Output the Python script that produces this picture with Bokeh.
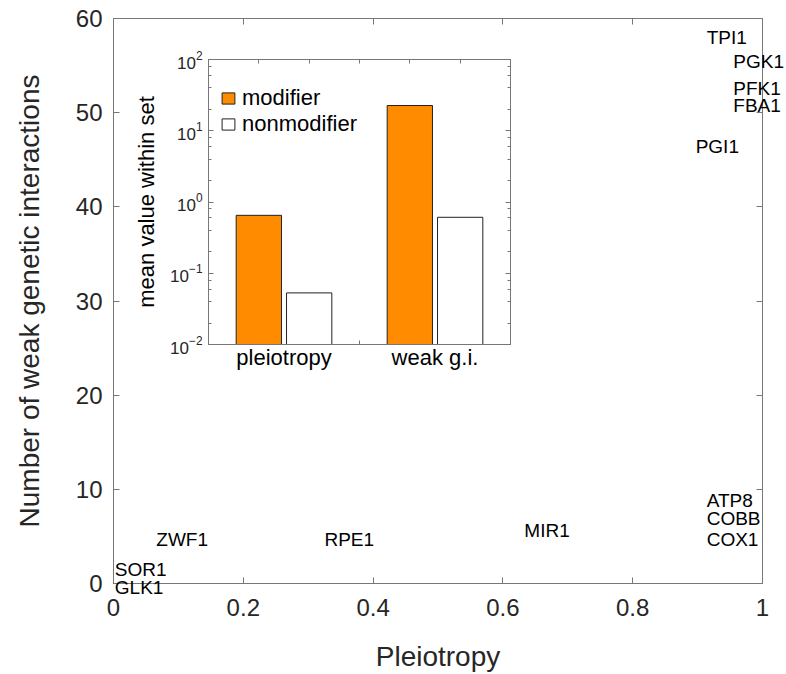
import numpy as np
from bokeh.plotting import figure
from bokeh.models import (FixedTicker, LinearAxis, LogAxis, LogTicker, GridBox, Column,
                          Range1d, ColumnDataSource)
from bokeh.core.properties import value
from bokeh.embed import file_html
from bokeh.resources import INLINE

# ---------------- data ----------------
genes = ["TPI1", "PGK1", "PFK1", "FBA1", "PGI1", "ATP8", "COBB", "COX1",
         "MIR1", "RPE1", "ZWF1", "SOR1", "GLK1"]
pleiotropy = [0.914, 0.955, 0.955, 0.955, 0.897, 0.914, 0.914, 0.914,
              0.633, 0.325, 0.066, 0.002, 0.002]
weak_gi = [58.0, 55.4, 52.6, 50.8, 46.4, 8.9, 7.0, 4.8,
           5.7, 4.8, 4.8, 1.6, -0.3]

x_ticks = [0, 0.2, 0.4, 0.6, 0.8, 1]
x_tick_labels = ["0", "0.2", "0.4", "0.6", "0.8", "1"]
y_ticks = [0, 10, 20, 30, 40, 50, 60]

inset_categories = ["pleiotropy", "weak g.i."]
modifier_means = [0.65, 22.6]
nonmodifier_means = [0.053, 0.61]
log_ticks = [0.01, 0.1, 1, 10, 100]

FONT = "Liberation Sans"
AX = "#777777"
TXT = "#262626"

# layout constants (pixels)
W, H = 778, 674
BL, BR, BT, BB = 113, 16, 18, 90
X0, X1, Y0, Y1 = 0.0, 1.0, 0.0, 60.0

# ---------------- main plot ----------------
p = figure(width=W, height=H, x_range=Range1d(X0, X1), y_range=Range1d(Y0, Y1),
           output_backend="svg", toolbar_location=None,
           min_border_left=BL, min_border_right=BR, min_border_top=BT,
           min_border_bottom=BB)
p.grid.visible = False
p.outline_line_color = AX
p.background_fill_color = "white"

for ax in (p.xaxis[0], p.yaxis[0]):
    ax.major_tick_in = 6
    ax.major_tick_out = 0
    ax.minor_tick_line_color = None
    ax.axis_line_color = AX
    ax.major_tick_line_color = AX
    ax.major_label_text_font = FONT
    ax.major_label_text_font_size = "24px"
    ax.major_label_text_color = TXT
    ax.axis_label_text_font = FONT
    ax.axis_label_text_font_size = "28px"
    ax.axis_label_text_font_style = "normal"
    ax.axis_label_text_color = TXT

p.xaxis[0].ticker = FixedTicker(ticks=x_ticks)
p.xaxis[0].major_label_overrides = {t: l for t, l in zip(x_ticks, x_tick_labels)}
p.xaxis[0].axis_label = "Pleiotropy"
p.xaxis[0].major_label_standoff = 15
p.xaxis[0].axis_label_standoff = 22

p.yaxis[0].ticker = FixedTicker(ticks=y_ticks)
p.yaxis[0].axis_label = "Number of weak genetic interactions"
p.yaxis[0].major_label_standoff = 11
p.yaxis[0].axis_label_standoff = 28

top = LinearAxis(ticker=FixedTicker(ticks=x_ticks), major_tick_in=6, major_tick_out=0,
                 minor_tick_line_color=None, axis_line_color=AX, major_tick_line_color=AX,
                 major_label_overrides={t: "" for t in x_ticks}, major_label_standoff=0)
right = LinearAxis(ticker=FixedTicker(ticks=y_ticks), major_tick_in=6, major_tick_out=0,
                   minor_tick_line_color=None, axis_line_color=AX, major_tick_line_color=AX,
                   major_label_overrides={t: "" for t in y_ticks}, major_label_standoff=0)
p.add_layout(top, "above")
p.add_layout(right, "right")

# ---------------- gene labels (transparent overlay with same scale, larger frame) ----------------
QW = 786
fw = W - BL - BR
fh = H - BT - BB
xr_px = QW - BL - fw   # extra room to the right of the box
yb_px = 16             # extra room below the box
q = figure(width=QW, height=H,
           x_range=Range1d(X0, X1 + xr_px * (X1 - X0) / fw),
           y_range=Range1d(Y0 - yb_px * (Y1 - Y0) / fh, Y1),
           output_backend="svg", toolbar_location=None,
           x_axis_location=None, y_axis_location=None,
           min_border_left=BL, min_border_right=0, min_border_top=BT,
           min_border_bottom=BB - yb_px)
q.grid.visible = False
q.outline_line_color = None
q.background_fill_alpha = 0
q.border_fill_alpha = 0

src = ColumnDataSource(dict(x=pleiotropy, y=weak_gi, t=genes))
q.text(x="x", y="y", text="t", source=src, text_align="left", text_baseline="middle",
       text_font=value(FONT), text_font_size="19px", text_color="black")

# ---------------- inset ----------------
inset = figure(width=384, height=335, x_range=Range1d(0.5, 2.5), y_range=Range1d(0.01, 100),
               y_axis_type="log", output_backend="svg", toolbar_location=None,
               min_border_left=65, min_border_right=5, min_border_top=15, min_border_bottom=35)
inset.grid.visible = False
inset.outline_line_color = AX
inset.border_fill_alpha = 0
inset.background_fill_color = "white"

centers = np.arange(1, len(inset_categories) + 1, dtype=float)
offset = 1 / 6
inset.vbar(x=centers - offset, top=modifier_means, bottom=0.01, width=0.3,
           fill_color="#FF8C00", line_color="#222222", line_width=1, legend_label="modifier")
inset.vbar(x=centers + offset, top=nonmodifier_means, bottom=0.01, width=0.3,
           fill_color="white", line_color="#222222", line_width=1, legend_label="nonmodifier")

xa = inset.xaxis[0]
xa.ticker = FixedTicker(ticks=list(centers), minor_ticks=[1.5])
xa.major_label_overrides = {float(c): n for c, n in zip(centers, inset_categories)}
xa.major_tick_in = 0
xa.major_tick_out = 0
xa.minor_tick_in = 4
xa.minor_tick_out = 0
xa.minor_tick_line_color = AX
xa.axis_line_color = AX
xa.major_label_text_font = FONT
xa.major_label_text_font_size = "22px"
xa.major_label_text_color = "black"
xa.major_label_standoff = 0

ya = inset.yaxis[0]
ya.ticker = LogTicker()
ya.major_tick_in = 5
ya.major_tick_out = 0
ya.minor_tick_in = 3
ya.minor_tick_out = 0
ya.axis_line_color = AX
ya.major_tick_line_color = AX
ya.minor_tick_line_color = AX
ya.major_label_text_font = FONT
ya.major_label_text_font_size = "17px"
ya.major_label_text_color = TXT
ya.major_label_standoff = 6
ya.axis_label = "mean value within set"
ya.axis_label_text_font = FONT
ya.axis_label_text_font_size = "22px"
ya.axis_label_text_font_style = "normal"
ya.axis_label_text_color = "black"
ya.axis_label_standoff = 8

top_ticks = list(np.concatenate([centers - offset, [1.5], centers + offset]))
itop = LinearAxis(ticker=FixedTicker(ticks=top_ticks),
                  major_tick_in=4, major_tick_out=0, minor_tick_line_color=None,
                  axis_line_color=AX, major_tick_line_color=AX,
                  major_label_overrides={t: "" for t in top_ticks}, major_label_standoff=0)
iright = LogAxis(ticker=LogTicker(), major_tick_in=5, major_tick_out=0,
                 minor_tick_in=3, minor_tick_out=0, axis_line_color=AX,
                 major_tick_line_color=AX, minor_tick_line_color=AX,
                 major_label_overrides={t: "" for t in log_ticks}, major_label_standoff=0)
inset.add_layout(itop, "above")
inset.add_layout(iright, "right")

lg = inset.legend[0]
lg.location = (12, 207)
lg.border_line_color = None
lg.background_fill_alpha = 0
lg.glyph_width = 16
lg.glyph_height = 14
lg.label_text_font = FONT
lg.label_text_font_size = "22px"
lg.label_text_color = "black"
lg.label_standoff = 6
lg.spacing = -4
lg.padding = 0
lg.margin = 0

q_box = Column(children=[q])
inset_box = Column(children=[inset])
inset_box.margin = (44, 0, 0, 131)

layout = GridBox(children=[(p, 0, 0), (q_box, 0, 0), (inset_box, 0, 0)])

open("out.html", "w").write(file_html(layout, INLINE))
